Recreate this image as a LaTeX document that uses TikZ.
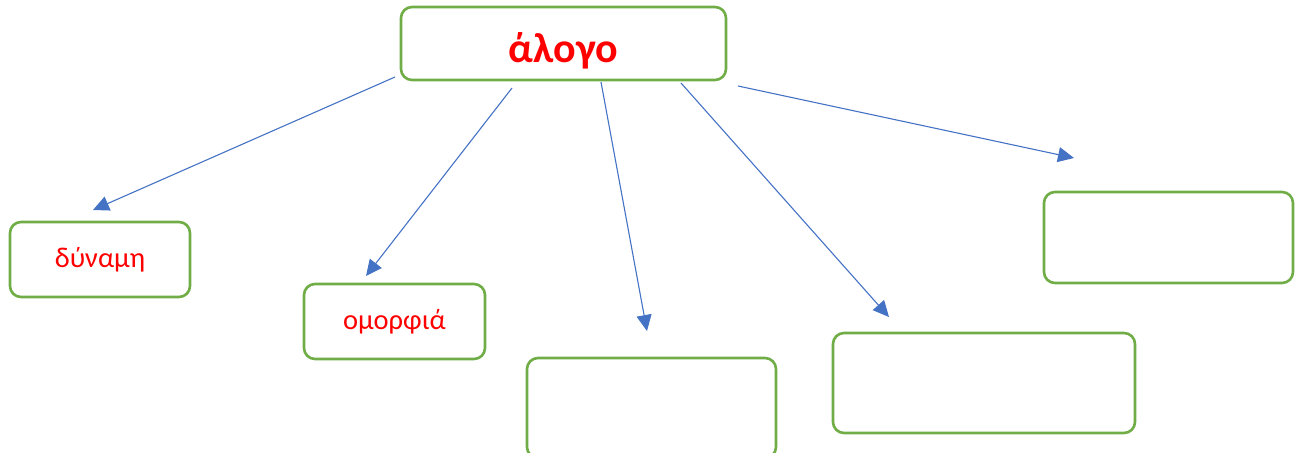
\documentclass[tikz,border=0pt]{standalone}
\usepackage{fontspec}
\setmainfont{Carlito}
\usetikzlibrary{arrows.meta}
\definecolor{boxgreen}{HTML}{70AD47}
\definecolor{arrowblue}{HTML}{4472C4}
\definecolor{txtred}{HTML}{FF0000}
\begin{document}
\begin{tikzpicture}[x=1pt,y=-1pt,
  box/.style={draw=boxgreen,line width=2.6pt,rounded corners=11pt,fill=white},
  lbl/.style={text=txtred,font=\fontsize{28.5}{32}\selectfont},
  conn/.style={draw=arrowblue,line width=1.1pt,-{Triangle[length=16pt,width=15pt]}}]
\useasboundingbox (0,0) rectangle (1297,452);
\draw[box] (401,7) rectangle (726,80);
\node[text=txtred,font=\fontsize{42}{46}\selectfont\bfseries] (title) at (563.5,51) {άλογο};
\draw[box] (10,222) rectangle (190,297);
\node[lbl] (dyn) at (100,260) {δύναμη};
\draw[box] (304,284) rectangle (485,359);
\node[lbl] (om) at (394.5,322) {ομορφιά};
\draw[box] (527,358) rectangle (776,458);
\draw[box] (833,333) rectangle (1135,433);
\draw[box] (1044,192) rectangle (1293,283);
\coordinate (s1) at (395,77); \coordinate (e1) at (93,210);
\coordinate (s2) at (512,88); \coordinate (e2) at (366,276);
\coordinate (s3) at (601,82); \coordinate (e3) at (647,331);
\coordinate (s4) at (681,83); \coordinate (e4) at (889,317);
\coordinate (s5) at (738,86); \coordinate (e5) at (1074,158);
\draw[conn] (s1) -- (e1);
\draw[conn] (s2) -- (e2);
\draw[conn] (s3) -- (e3);
\draw[conn] (s4) -- (e4);
\draw[conn] (s5) -- (e5);
\end{tikzpicture}
\end{document}
